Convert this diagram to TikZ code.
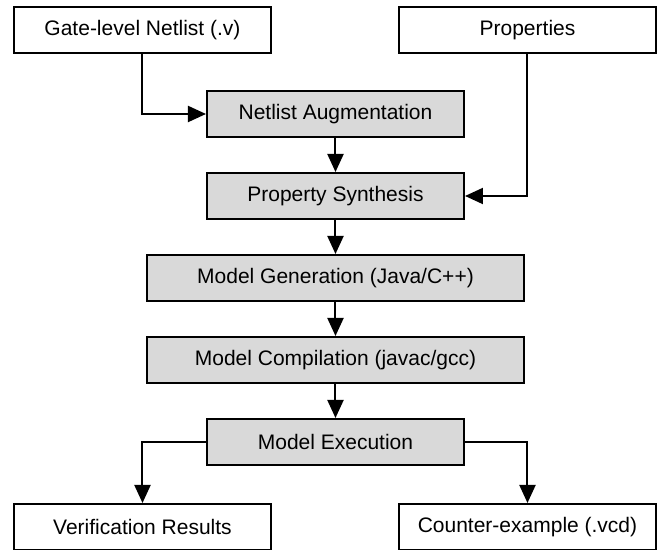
\documentclass[tikz,border=0pt]{standalone}
\usepackage{fontspec}
\setmainfont{Liberation Sans}
\usetikzlibrary{positioning,arrows.meta}

\begin{document}
\begin{tikzpicture}[
  x=0.5pt, y=-0.5pt,
  file/.style={draw, line width=1pt, minimum width=128.5pt, minimum height=23pt, inner sep=0pt, font=\fontsize{10.5}{12}\selectfont},
  stage/.style={file, fill=gray!30},
  widestage/.style={stage, minimum width=188.5pt},
  flow/.style={-{Triangle[length=9pt,width=8pt]}, line width=1pt}
]
\useasboundingbox (0,0) rectangle (661,550);

% Inputs (top row)
\node[file] (netlist) at (142.5,30) {Gate-level Netlist (.v)};
\node[file] (props) at (527.5,30) {Properties};

% Tool flow (middle column)
\node[stage] (augment) at (335.5,114) {Netlist Augmentation};
\node[stage, below=17pt of augment] (synth) {Property Synthesis};
\node[widestage, below=17pt of synth] (modelgen) {Model Generation (Java/C++)};
\node[widestage, below=17pt of modelgen] (compile) {Model Compilation (javac/gcc)};
\node[stage, below=17pt of compile] (exec) {Model Execution};

% Outputs (bottom row)
\node[file] (results) at (142.5,527) {Verification Results};
\node[file] (cex) at (527.5,527) {Counter-example (.vcd)};

% Inputs into the flow
\draw[flow] (netlist.south) |- (augment.west);
\draw[flow] (props.south) |- (synth.east);

% Main chain
\draw[flow] (augment) -- (synth);
\draw[flow] (synth) -- (modelgen);
\draw[flow] (modelgen) -- (compile);
\draw[flow] (compile) -- (exec);

% Results
\draw[flow] (exec.west) -| (results.north);
\draw[flow] (exec.east) -| (cex.north);

\end{tikzpicture}
\end{document}
